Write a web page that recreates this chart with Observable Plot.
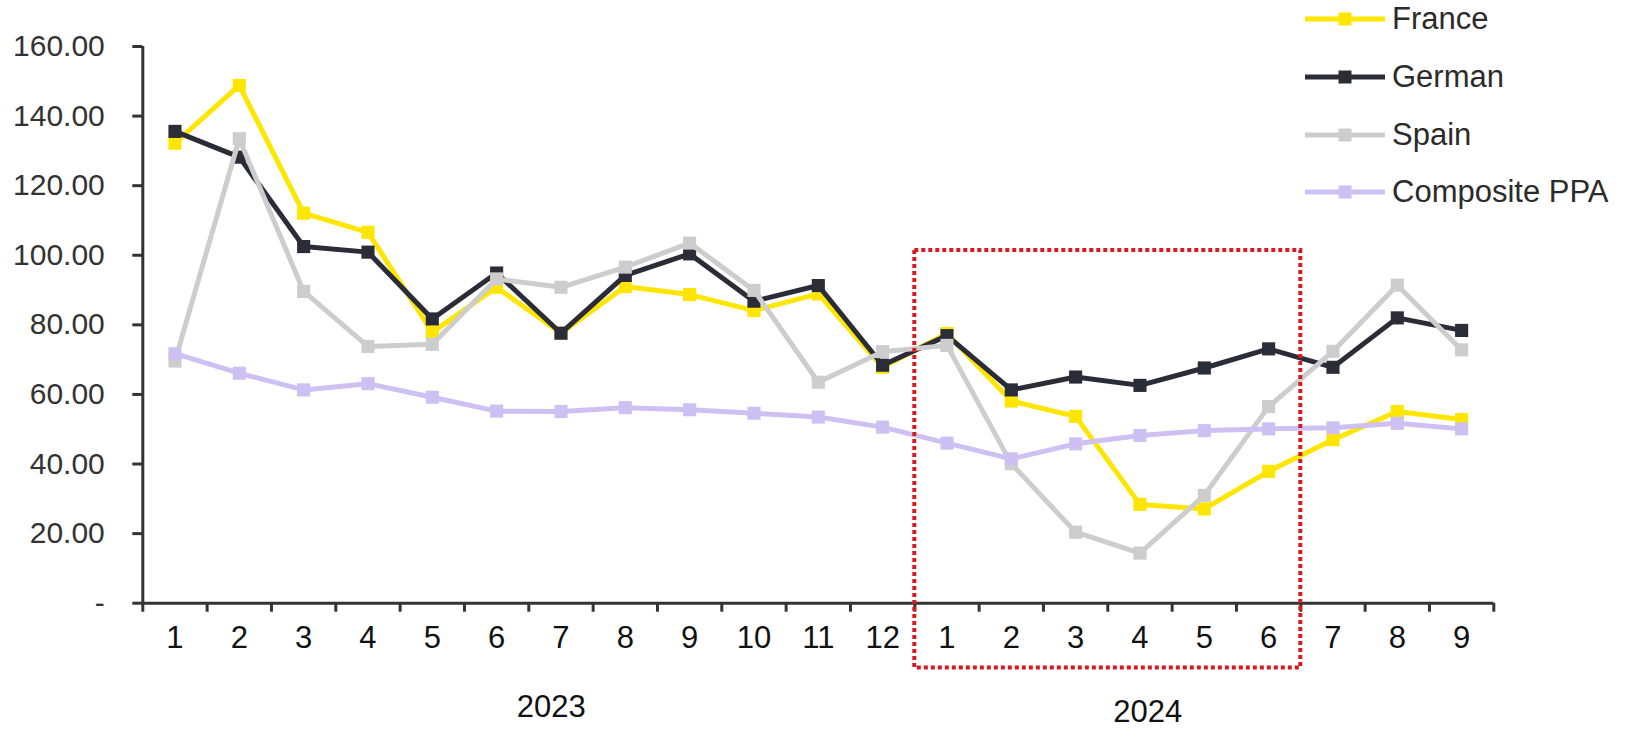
<!DOCTYPE html>
<html><head><meta charset="utf-8">
<script src="https://cdn.jsdelivr.net/npm/d3@7"></script>
<script src="https://cdn.jsdelivr.net/npm/@observablehq/plot@0.6"></script>
<style>
body{margin:0;background:#fff;font-family:"Liberation Sans",Arial,sans-serif;}
#wrap{position:relative;width:1629px;height:734px;overflow:hidden;}
#chart svg{display:block;}
#legend{position:absolute;left:1305px;top:0;}
.item{position:absolute;left:0;height:40px;display:flex;align-items:center;white-space:nowrap;font-size:31px;color:#2b2b2b;}
.item svg{margin-right:7px;}
</style></head><body>
<div id="wrap"><div id="chart"></div><div id="legend"></div></div>
<script>
const monthLabels = ["1","2","3","4","5","6","7","8","9","10","11","12","1","2","3","4","5","6","7","8","9"];
const yearLabels = ["2023", "2024"];
const seriesNames = ["France", "German", "Spain", "Composite PPA"];
const france    = [132.2, 148.8, 112.1, 106.6, 77.9, 90.8, 77.6, 91.0, 88.7, 84.1, 88.9, 67.8, 77.5, 58.1, 53.7, 28.4, 27.1, 37.9, 47.0, 55.1, 52.8];
const german    = [135.6, 128.2, 102.5, 100.9, 81.7, 94.9, 77.6, 94.2, 100.4, 86.8, 91.3, 68.4, 76.9, 61.3, 65.0, 62.6, 67.6, 73.1, 67.8, 82.0, 78.4];
const spain     = [69.6, 133.5, 89.6, 73.8, 74.4, 93.2, 90.8, 96.6, 103.5, 89.9, 63.5, 72.3, 74.1, 40.1, 20.4, 14.4, 31.0, 56.5, 72.4, 91.4, 72.8];
const composite = [71.7, 66.1, 61.3, 63.1, 59.2, 55.2, 55.1, 56.2, 55.6, 54.6, 53.5, 50.6, 46.0, 41.5, 45.8, 48.2, 49.6, 50.1, 50.4, 51.7, 50.1];
const yTicks = [0, 20, 40, 60, 80, 100, 120, 140, 160];

const seriesValues = [france, german, spain, composite];
const seriesColors = ["#ffe600", "#2a2c38", "#cdcdcd", "#cfc0f3"];

const n = monthLabels.length;
const marks = [];

// axes
marks.push(Plot.axisY({ticks: yTicks, tickSize: 10, tickPadding: 28, tickFormat: d => d === 0 ? "-" : d.toFixed(2),
  fontSize: 30, color: "#333", strokeWidth: 3, label: null}));
marks.push(Plot.axisX({ticks: d3.range(0, n + 1), tickSize: 9, tickFormat: () => "", color: "#333", strokeWidth: 3, label: null}));
marks.push(Plot.axisX({ticks: d3.range(n).map(i => i + 0.5), tickSize: 0, tickPadding: 23,
  tickFormat: d => monthLabels[Math.floor(d)], fontSize: 31, color: "#111", label: null}));
marks.push(Plot.ruleY([0], {stroke: "#333", strokeWidth: 3}));
marks.push(Plot.ruleX([0], {y1: 0, y2: 160, stroke: "#333", strokeWidth: 3}));

// year labels
marks.push(Plot.text([yearLabels[0]], {x: 6.35, y: 0, dy: 104.3, text: d => d, fontSize: 31, fill: "#111", lineAnchor: "middle"}));
marks.push(Plot.text([yearLabels[1]], {x: 15.62, y: 0, dy: 109, text: d => d, fontSize: 31, fill: "#111", lineAnchor: "middle"}));

// series
seriesNames.forEach((name, k) => {
  const rows = seriesValues[k].map((v, i) => ({x: i + 0.5, v}));
  marks.push(Plot.line(rows, {x: "x", y: "v", stroke: seriesColors[k], strokeWidth: 5, strokeLinejoin: "round"}));
  marks.push(Plot.dot(rows, {x: "x", y: "v", symbol: "square", r: 7.4, fill: seriesColors[k], stroke: "none"}));
});

// highlight box
marks.push(Plot.rect([{x1: 12, x2: 18, y1: -18.6, y2: 101.4}], {x1: "x1", x2: "x2", y1: "y1", y2: "y2",
  fill: "none", stroke: "#d71920", strokeWidth: 4, strokeDasharray: "4,3"}));

const chart = Plot.plot({
  width: 1629, height: 734,
  marginLeft: 142.3, marginRight: 135.7, marginTop: 46, marginBottom: 131.3,
  x: {domain: [0, n], label: null},
  y: {domain: [0, 160], label: null},
  style: {fontFamily: "'Liberation Sans', Arial, sans-serif", background: "white", overflow: "visible"},
  marks
});
document.getElementById("chart").appendChild(chart);

// legend
const legend = document.getElementById("legend");
const rowCenters = [19.3, 77.3, 135, 191.7];
seriesNames.forEach((name, k) => {
  const div = document.createElement("div");
  div.className = "item";
  div.style.top = (rowCenters[k] - 20) + "px";
  div.innerHTML = `<svg width="80" height="20"><line x1="0" x2="80" y1="10" y2="10" stroke="${seriesColors[k]}" stroke-width="5"/><rect x="33.5" y="3.5" width="13" height="13" fill="${seriesColors[k]}"/></svg><span>${name}</span>`;
  legend.appendChild(div);
});
</script>
</body></html>
